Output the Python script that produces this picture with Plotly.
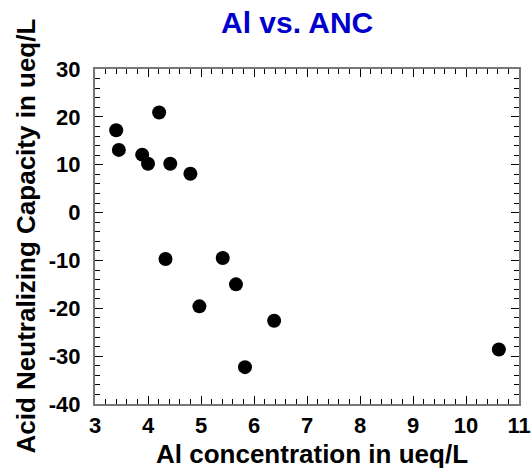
import plotly.graph_objects as go

# Aluminium concentration (ueq/L) and acid neutralizing capacity (ueq/L)
al_conc = [4.21, 3.40, 3.45, 3.89, 4.00, 4.42, 4.80, 4.33, 5.41, 5.66, 4.97, 6.38, 5.83, 10.62]
anc = [20.9, 17.2, 13.1, 12.1, 10.2, 10.2, 8.1, -9.7, -9.5, -15.0, -19.6, -22.6, -32.3, -28.6]

x_ticks = [3, 4, 5, 6, 7, 8, 9, 10, 11]
y_ticks = [30, 20, 10, 0, -10, -20, -30, -40]

FONT = "Liberation Sans"
W, H = 532, 475
L, R, T, B = 95, 13, 69, 71

fig = go.Figure(
    go.Scatter(
        x=al_conc,
        y=anc,
        mode="markers",
        marker=dict(size=14, color="black", line=dict(width=0)),
        showlegend=False,
    )
)

axis_common = dict(
    showgrid=False,
    zeroline=False,
    showline=True,
    linecolor="#777777",
    linewidth=2,
    mirror="allticks",
    ticks="inside",
    ticklen=8,
    tickwidth=1,
    tickcolor="black",
    tickfont=dict(family=FONT, size=22, color="black", weight=700),
)

fig.update_xaxes(
    **axis_common,
    range=[3, 11],
    tickvals=x_ticks,
    ticktext=[f"<b>{v}</b>" for v in x_ticks],
    minor=dict(dtick=0.2, ticks="inside", ticklen=5, tickcolor="black", tickwidth=1),
    ticklabelstandoff=1,
)
fig.update_yaxes(
    **axis_common,
    range=[-40, 30],
    tickvals=y_ticks,
    ticktext=[f"<b>{v}</b>" for v in y_ticks],
    minor=dict(dtick=2, ticks="inside", ticklen=5, tickcolor="black", tickwidth=1),
    ticklabelstandoff=8,
)

plot_w = W - L - R
plot_h = H - T - B

fig.update_layout(
    width=W,
    height=H,
    margin=dict(l=L, r=R, t=T, b=B, autoexpand=False),
    paper_bgcolor="white",
    plot_bgcolor="white",
    annotations=[
        # chart title
        dict(
            text="<b>Al vs. ANC</b>",
            xref="paper", yref="paper",
            x=(296.5 - L) / plot_w, y=(H - B - 23) / plot_h,
            xanchor="center", yanchor="middle",
            showarrow=False,
            font=dict(family=FONT, size=30, color="#0000cc"),
        ),
        # x axis title
        dict(
            text="<b>Al concentration in ueq/L</b>",
            xref="paper", yref="paper",
            x=(311.5 - L) / plot_w, y=(H - B - 454) / plot_h,
            xanchor="center", yanchor="middle",
            showarrow=False,
            font=dict(family=FONT, size=26, color="black"),
        ),
        # y axis title
        dict(
            text="<b>Acid Neutralizing Capacity in ueq/L</b>",
            xref="paper", yref="paper",
            x=(25 - L) / plot_w, y=0.5,
            xanchor="center", yanchor="middle",
            textangle=-90,
            showarrow=False,
            font=dict(family=FONT, size=26, color="black"),
        ),
    ],
)

fig.write_html("out.html")
